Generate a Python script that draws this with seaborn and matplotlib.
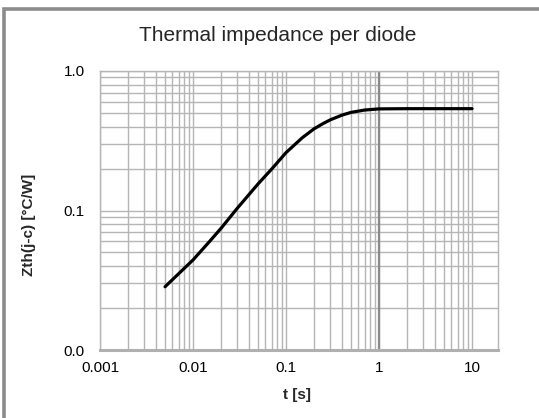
import numpy as np
import pandas as pd
import matplotlib
matplotlib.use('Agg')
import matplotlib.pyplot as plt
from matplotlib.ticker import LogLocator, FixedLocator, FixedFormatter, NullFormatter
from matplotlib.patches import Rectangle
import seaborn as sns

# Values (log-log)
t_s = [0.005, 0.007, 0.01, 0.015, 0.02, 0.03, 0.05, 0.07, 0.1, 0.15,
       0.2, 0.25, 0.3, 0.4, 0.5, 0.7, 1, 2, 5, 10]
zth = [0.0284, 0.0352, 0.0442, 0.0598, 0.0745, 0.104, 0.155, 0.198, 0.26, 0.333,
       0.385, 0.42, 0.447, 0.483, 0.505, 0.525, 0.535, 0.537, 0.537, 0.537]

x_ticks = [0.001, 0.01, 0.1, 1, 10]
x_tick_labels = ['0.001', '0.01', '0.1', '1', '10']
y_ticks = [0.01, 0.1, 1.0]
y_tick_labels = ['0.0', '0.1', '1.0']

df = pd.DataFrame({'t': t_s, 'Zth': zth})

sns.set_style('white')
plt.rcParams['font.family'] = ['Liberation Sans', 'DejaVu Sans']

W, H = 539, 418
fig = plt.figure(figsize=(W / 100, H / 100), dpi=100)
ax = fig.add_axes([100 / W, 1 - 350 / H, 398 / W, 279 / H])

ax.set_xscale('log')
ax.set_yscale('log')
ax.set_xlim(0.001, 19)
ax.set_ylim(0.01, 1.0)

# gridlines first so the curve sits on top
ax.xaxis.set_major_locator(FixedLocator(x_ticks))
ax.xaxis.set_major_formatter(FixedFormatter(x_tick_labels))
ax.xaxis.set_minor_locator(LogLocator(base=10, subs=range(2, 10)))
ax.xaxis.set_minor_formatter(NullFormatter())
ax.yaxis.set_major_locator(FixedLocator(y_ticks))
ax.yaxis.set_major_formatter(FixedFormatter(y_tick_labels))
ax.yaxis.set_minor_locator(LogLocator(base=10, subs=range(2, 10)))
ax.yaxis.set_minor_formatter(NullFormatter())

grid_col = '#b5b5b5'
ax.grid(True, which='both', color=grid_col, linewidth=1.0)
ax.set_axisbelow(True)
ax.axvline(1, color='#8a8a8a', linewidth=1.6, zorder=1)

sns.lineplot(data=df, x='t', y='Zth', ax=ax, color='black', linewidth=2.3, zorder=3)

ax.tick_params(which='both', length=0, labelsize=11, colors='black')
ax.tick_params(axis='x', pad=8)
ax.tick_params(axis='y', pad=11)

for side in ['top', 'right', 'left']:
    ax.spines[side].set_color(grid_col)
    ax.spines[side].set_linewidth(1.0)
ax.spines['bottom'].set_color('#b0b0b0')
ax.spines['bottom'].set_linewidth(2.2)

ax.set_xlabel('t [s]', fontsize=11, fontweight='bold')
ax.set_ylabel('Zth(j-c) [°C/W]', fontsize=11, fontweight='bold')
ax.xaxis.set_label_coords(0.495, -0.136)
ax.yaxis.set_label_coords(-0.16, 0.45)

fig.text(278 / W, 1 - 41 / H, 'Thermal impedance per diode', fontsize=15,
         ha='center', va='baseline')

# chart-area frame (only left and top edges are visible in the reference)
fig.add_artist(Rectangle((4 / W, -0.1), 1.2, 1 - 8.5 / H + 0.1,
                         transform=fig.transFigure, fill=False,
                         edgecolor='#8c8c8c', linewidth=2.6))

fig.savefig('out.png', dpi=100)
